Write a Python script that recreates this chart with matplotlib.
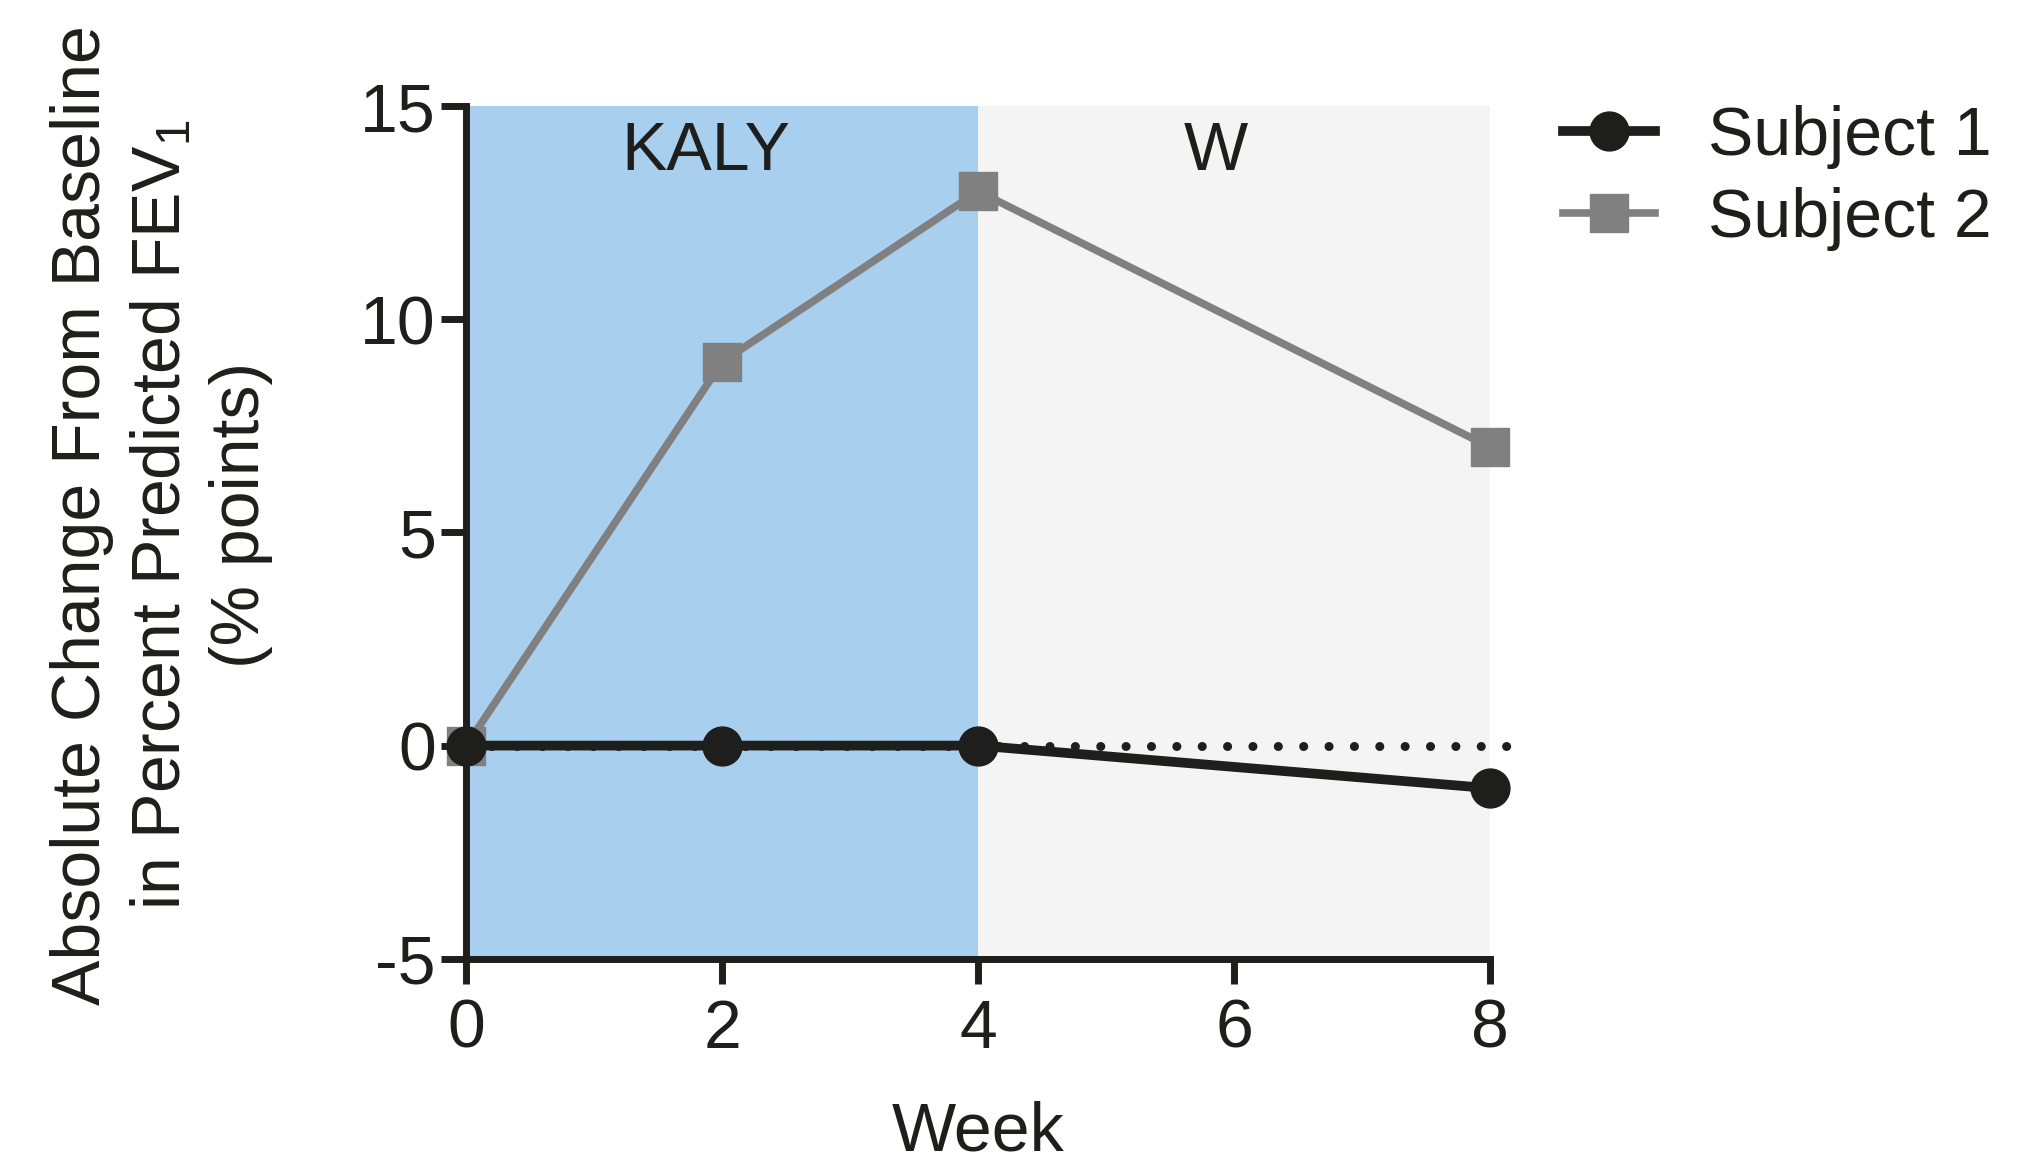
import matplotlib
matplotlib.use("Agg")
import matplotlib.pyplot as plt

weeks = [0, 2, 4, 8]
subject1 = [0, 0, 0, -1]
subject2 = [0, 9, 13, 7]
labels = ["Subject 1", "Subject 2"]
phase_names = ["KALY", "W"]
phase_spans = [(0, 4), (4, 8)]
xticks = [0, 2, 4, 6, 8]
yticks = [-5, 0, 5, 10, 15]

plt.rcParams['font.family'] = ['Liberation Sans', 'DejaVu Sans']
plt.rcParams['mathtext.fontset'] = 'custom'
plt.rcParams['mathtext.rm'] = 'Liberation Sans'
plt.rcParams['mathtext.it'] = 'Liberation Sans:italic'
plt.rcParams['axes.unicode_minus'] = False

black = '#1e1e1c'
grey = '#808080'
fs = 49

fig = plt.figure(figsize=(20.19, 11.65), dpi=100)
ax = fig.add_axes([0.231, 0.177, 0.526, 0.732])

ax.axvspan(*phase_spans[0], color='#a9cfee', lw=0, zorder=0)
ax.axvspan(*phase_spans[1], color='#f4f4f4', lw=0, zorder=0)

# dotted zero line
ax.plot([0, 8.25], [0, 0], color=black, lw=6.5, linestyle=(0, (0.01, 2.8)),
        dash_capstyle='round', clip_on=False, zorder=1)

ax.plot(weeks, subject2, color=grey, lw=5.5, marker='s', ms=27,
        label=labels[1], clip_on=False, zorder=3)
ax.plot(weeks, subject1, color=black, lw=7, marker='o', ms=28,
        label=labels[0], clip_on=False, zorder=4)

ax.text(1.87, 13.5, phase_names[0], fontsize=fs, ha='center', va='baseline', color=black)
ax.text(5.86, 13.5, phase_names[1], fontsize=fs, ha='center', va='baseline', color=black)

ax.set_xlim(0, 8.3)
ax.set_ylim(-5, 15)
ax.set_xticks(xticks)
ax.set_yticks(yticks)
ax.tick_params(labelsize=fs, length=18, width=5, color=black, labelcolor=black)
ax.tick_params(axis='x', pad=10)
ax.tick_params(axis='y', pad=4)

for s in ['top', 'right']:
    ax.spines[s].set_visible(False)
for s in ['left', 'bottom']:
    ax.spines[s].set_linewidth(5)
    ax.spines[s].set_color(black)
ax.spines['bottom'].set_bounds(0, 8)
ax.spines['left'].set_zorder(5)

ax.set_xlabel('Week', fontsize=fs, color=black)
ax.xaxis.set_label_coords(4 / 8.3, -0.166)

fig.text(0.08, 0.558,
         'Absolute Change From Baseline\nin Percent Predicted FEV$_1$\n(% points)',
         rotation=90, fontsize=fs, ha='center', va='center',
         multialignment='center', linespacing=1.3, color=black)

h, l = ax.get_legend_handles_labels()
leg = fig.legend(h[::-1], l[::-1], loc='upper left', bbox_to_anchor=(0.774, 0.91),
                 frameon=False, fontsize=fs, handlelength=1.35, handletextpad=0.78,
                 labelspacing=0.27, borderpad=0, borderaxespad=0)
for t in leg.get_texts():
    t.set_color(black)

fig.savefig('out.png', dpi=100)
